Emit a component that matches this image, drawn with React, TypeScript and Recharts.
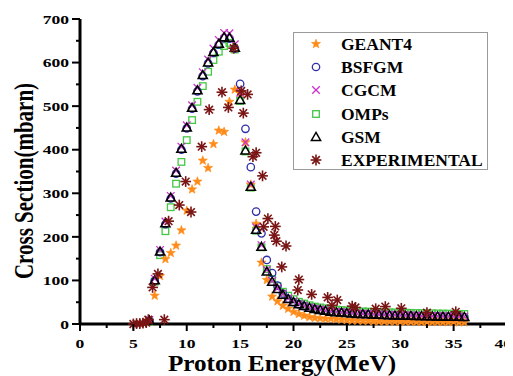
import React from 'react';
import { ScatterChart, Scatter, XAxis, YAxis } from 'recharts';

const FONT = '"Liberation Serif", "Times New Roman", serif';

// ---- data ----
const modelEnergy = [6.5, 7, 7.5, 8, 8.5, 9, 9.5, 10, 10.5, 11, 11.5, 12, 12.5, 13, 13.5, 14, 14.5, 15, 15.5, 16, 16.5, 17, 17.5, 18, 18.5, 19, 19.5, 20, 20.5, 21, 21.5, 22, 22.5, 23, 23.5, 24, 24.5, 25, 25.5, 26, 26.5, 27, 27.5, 28, 28.5, 29, 29.5, 30, 30.5, 31, 31.5, 32, 32.5, 33, 33.5, 34, 34.5, 35, 35.5, 36];

const gsm = [8, 100, 166, 231, 290, 347, 402, 451, 496, 536, 571, 600, 624, 643, 658, 657, 634, 514, 398, 315, 216, 177, 120, 97, 80, 67, 57, 50, 45, 41, 37, 34, 32, 30, 28, 27, 26, 25, 24, 23, 22.5, 22, 21.5, 21, 20.5, 20, 19.5, 19, 18.8, 18.5, 18.2, 18, 17.7, 17.4, 17.1, 16.9, 16.6, 16.4, 16.2, 16];

const cgcm = [9, 104, 170, 235, 294, 352, 407, 456, 502, 542, 578, 607, 632, 652, 668, 667, 642, 531, 417, 320, 222, 181, 124, 99, 82, 69, 59, 52, 46, 42, 38, 35, 33, 31, 29, 28, 27, 26, 25, 24, 23.5, 23, 22.5, 22, 21.5, 21, 20.5, 20, 19.8, 19.5, 19.2, 19, 18.7, 18.4, 18.1, 17.9, 17.6, 17.4, 17.2, 17];

const bsfgm = [7, 99, 165, 229, 288, 345, 400, 449, 494, 534, 569, 598, 622, 641, 656, 655, 632, 551, 448, 360, 258, 208, 147, 117, 88, 70, 58, 50, 45, 41, 37, 34, 32, 30, 28, 27, 26, 25, 24, 23, 22.5, 22, 21.5, 21, 20.5, 20, 19.5, 19, 18.8, 18.5, 18.2, 18, 17.7, 17.4, 17.1, 16.9, 16.6, 16.4, 16.2, 16];

const omps = [5, 97, 158, 213, 268, 322, 372, 422, 468, 510, 546, 579, 606, 625, 638, 645, 630, 512, 396, 313, 214, 176, 126, 103, 87, 74, 65, 57, 51, 47, 43, 40, 38, 36, 34, 33, 32, 31, 30, 29.5, 29, 28.5, 28, 27.5, 27, 26.8, 26.5, 26, 25.8, 25.5, 25.2, 25, 24.7, 24.5, 24.2, 24, 23.7, 23.5, 23.2, 23];

const geantEnergy = [6, 6.5, 7, 7.5, 8, 8.5, 9, 9.5, 10, 10.5, 11, 11.5, 12, 12.5, 13, 13.5, 14, 14.5, 15, 15.5, 16, 16.5, 17, 17.5, 18, 18.5, 19, 19.5, 20, 20.5, 21, 21.5, 22, 22.5, 23, 23.5, 24, 24.5, 25, 25.5, 26, 26.5, 27, 27.5, 28, 28.5, 29, 29.5, 30, 30.5, 31, 31.5, 32, 32.5, 33, 33.5, 34, 34.5, 35, 35.5, 36];
const geant4 = [2, 6, 65, 110, 149, 163, 180, 215, 260, 309, 327, 375, 358, 413, 444, 441, 510, 538, 530, 417, 320, 230, 141, 101, 63, 52, 42, 35, 28, 23, 19, 16, 14, 13, 12, 12, 11, 10, 9, 8, 8, 7, 7, 6, 6, 6, 5.5, 5.5, 5, 5, 5, 4.8, 4.8, 4.6, 4.5, 4.5, 4.4, 4.3, 4.2, 4.1, 4];

const expEnergy = [5.0, 5.3, 5.6, 5.9, 6.2, 6.4, 6.8, 7.3, 7.9, 8.3, 9.3, 9.9, 10.4, 11.4, 12.1, 13.3, 13.9, 14.4, 15.1, 15.3, 15.7, 16.2, 16.5, 17.1, 17.2, 17.6, 18.2, 18.3, 18.4, 18.9, 19.3, 20.4, 20.5, 21.7, 23.2, 23.6, 24.1, 25.5, 25.8, 27.7, 28.6, 30.1, 32.5, 35.2];
const experimental = [0, 1, 1, 2, 3, 10, 84, 115, 10, 236, 273, 327, 257, 407, 492, 532, 497, 633, 535, 484, 527, 384, 393, 340, 223, 242, 204, 224, 190, 131, 179, 78, 102, 68, 61, 43, 55, 41, 38, 35, 40, 36, 26, 28];

const xTicks = [0, 2.5, 5, 7.5, 10, 12.5, 15, 17.5, 20, 22.5, 25, 27.5, 30, 32.5, 35, 37.5, 40];
const yTicks = [0, 50, 100, 150, 200, 250, 300, 350, 400, 450, 500, 550, 600, 650, 700];

const seriesNames = ['GEANT4', 'BSFGM', 'CGCM', 'OMPs', 'GSM', 'EXPERIMENTAL'];

const toPoints = (xs: number[], ys: number[]) => xs.map((x, i) => ({ x, y: ys[i] }));

// ---- colours ----
const C_GEANT = '#FF8C1A';
const C_BSF = '#2E2EA8';
const C_CGCM = '#CC33CC';
const C_OMP = '#44C744';
const C_GSM = '#000000';
const C_EXP = '#7A1515';

// ---- marker shapes ----
const StarMark = ({ cx, cy, r = 4.8 }: any) => {
  const pts: string[] = [];
  for (let i = 0; i < 10; i++) {
    const rr = i % 2 === 0 ? r : r * 0.42;
    const a = -Math.PI / 2 + (i * Math.PI) / 5;
    pts.push(`${cx + rr * Math.cos(a)},${cy + rr * Math.sin(a)}`);
  }
  return <polygon points={pts.join(' ')} fill={C_GEANT} stroke={C_GEANT} strokeWidth={0.6} />;
};
const CircleMark = ({ cx, cy }: any) => (
  <circle cx={cx} cy={cy} r={3.7} fill="none" stroke={C_BSF} strokeWidth={1.3} />
);
const CrossMark = ({ cx, cy }: any) => (
  <g stroke={C_CGCM} strokeWidth={1.3}>
    <line x1={cx - 3.8} y1={cy - 3.8} x2={cx + 3.8} y2={cy + 3.8} />
    <line x1={cx - 3.8} y1={cy + 3.8} x2={cx + 3.8} y2={cy - 3.8} />
  </g>
);
const SquareMark = ({ cx, cy }: any) => (
  <rect x={cx - 3.3} y={cy - 3.3} width={6.6} height={6.6} fill="none" stroke={C_OMP} strokeWidth={1.3} />
);
const TriMark = ({ cx, cy }: any) => (
  <polygon points={`${cx},${cy - 4.6} ${cx + 4.6},${cy + 3.4} ${cx - 4.6},${cy + 3.4}`} fill="none" stroke={C_GSM} strokeWidth={1.5} />
);
const AstMark = ({ cx, cy }: any) => {
  const r = 5.4;
  const d = r * 0.7071;
  return (
    <g stroke={C_EXP} strokeWidth={1.6}>
      <line x1={cx - r} y1={cy} x2={cx + r} y2={cy} />
      <line x1={cx} y1={cy - r} x2={cx} y2={cy + r} />
      <line x1={cx - d} y1={cy - d} x2={cx + d} y2={cy + d} />
      <line x1={cx - d} y1={cy + d} x2={cx + d} y2={cy - d} />
      <circle cx={cx} cy={cy} r={1.7} fill={C_EXP} stroke="none" />
    </g>
  );
};

const legendShapes = [StarMark, CircleMark, CrossMark, SquareMark, TriMark, AstMark];

const STRETCH = 1.3;

// ---- ticks ----
const XTick = (props: any) => {
  const { x, y, payload } = props;
  const v = payload.value;
  const major = v % 5 === 0;
  const isLast = v === 40;
  return (
    <g>
      <line x1={x} x2={x} y1={y} y2={y + (major ? 7 : 4)} stroke="#000" strokeWidth={2} />
      {major && (
        <text
          x={0}
          y={0}
          transform={`translate(${isLast ? x + 5 : x},${y + 19}) scale(${STRETCH},1)`}
          textAnchor={isLast ? 'end' : 'middle'}
          dominantBaseline="central"
          fontFamily={FONT}
          fontWeight="bold"
          fontSize={13.5}
          fill="#000"
        >
          {v}
        </text>
      )}
    </g>
  );
};
const YTick = (props: any) => {
  const { x, y, payload } = props;
  const v = payload.value;
  const major = v % 100 === 0;
  return (
    <g>
      <line x1={x} x2={x - (major ? 8 : 4)} y1={y} y2={y} stroke="#000" strokeWidth={2} />
      {major && (
        <text
          x={0}
          y={0}
          transform={`translate(${x - 11},${y}) scale(${STRETCH},1)`}
          textAnchor="end"
          dominantBaseline="central"
          fontFamily={FONT}
          fontWeight="bold"
          fontSize={13.5}
          fill="#000"
        >
          {v}
        </text>
      )}
    </g>
  );
};

const XTitle = () => (
  <text x={0} y={0} transform="translate(274,363) scale(1.05,1)" textAnchor="middle" fontFamily={FONT} fontWeight="bold" fontSize={24} fill="#000">
    Proton Energy(MeV)
  </text>
);
const YTitle = () => (
  <text x={0} y={0} transform="translate(15,173) scale(1.3,1) rotate(-90)" textAnchor="middle" dominantBaseline="central" fontFamily={FONT} fontWeight="bold" fontSize={21} fill="#000">
    Cross Section(mbarn)
  </text>
);

const Legend = () => (
  <div
    style={{
      position: 'absolute',
      left: 285,
      top: 24,
      width: 195,
      height: 138,
      border: '1px solid #9a9a9a',
      boxSizing: 'border-box',
      background: 'transparent',
    }}
  >
    {seriesNames.map((name, i) => {
      const Shape = legendShapes[i];
      const cy = 11 + i * 23.2;
      return (
        <div key={name} style={{ position: 'absolute', left: 0, top: cy - 10, height: 20, width: 195 }}>
          <svg width={30} height={20} style={{ position: 'absolute', left: 7, top: 0 }}>
            <Shape cx={15} cy={10} />
          </svg>
          <span
            style={{
              position: 'absolute',
              left: 47,
              top: 0,
              lineHeight: '20px',
              fontFamily: FONT,
              fontWeight: 'bold',
              fontSize: 17.5,
              color: '#000',
              whiteSpace: 'nowrap',
            }}
          >
            {name}
          </span>
        </div>
      );
    })}
  </div>
);

export default function App() {
  return (
    <div style={{ position: 'relative', width: 505, height: 368 }}>
      <ScatterChart width={505} height={368} margin={{ top: 11, right: 6, bottom: 0, left: 0 }}>
        <XAxis
          type="number"
          dataKey="x"
          domain={[0, 40]}
          ticks={xTicks}
          interval={0}
          tickSize={0}
          tickMargin={0}
          tick={<XTick />}
          axisLine={{ stroke: '#000', strokeWidth: 3 }}
          tickLine={false}
          height={52}
          label={{ content: <XTitle /> }}
        />
        <YAxis
          type="number"
          dataKey="y"
          domain={[0, 700]}
          ticks={yTicks}
          interval={0}
          tickSize={0}
          tickMargin={0}
          tick={<YTick />}
          axisLine={{ stroke: '#000', strokeWidth: 3 }}
          tickLine={false}
          width={72}
          label={{ content: <YTitle /> }}
        />
        <Scatter name="OMPs" data={toPoints(modelEnergy, omps)} shape={<SquareMark />} isAnimationActive={false} />
        <Scatter name="GEANT4" data={toPoints(geantEnergy, geant4)} shape={<StarMark />} isAnimationActive={false} />
        <Scatter name="BSFGM" data={toPoints(modelEnergy, bsfgm)} shape={<CircleMark />} isAnimationActive={false} />
        <Scatter name="CGCM" data={toPoints(modelEnergy, cgcm)} shape={<CrossMark />} isAnimationActive={false} />
        <Scatter name="GSM" data={toPoints(modelEnergy, gsm)} shape={<TriMark />} isAnimationActive={false} />
        <Scatter name="EXPERIMENTAL" data={toPoints(expEnergy, experimental)} shape={<AstMark />} isAnimationActive={false} />
      </ScatterChart>
      <Legend />
    </div>
  );
}
